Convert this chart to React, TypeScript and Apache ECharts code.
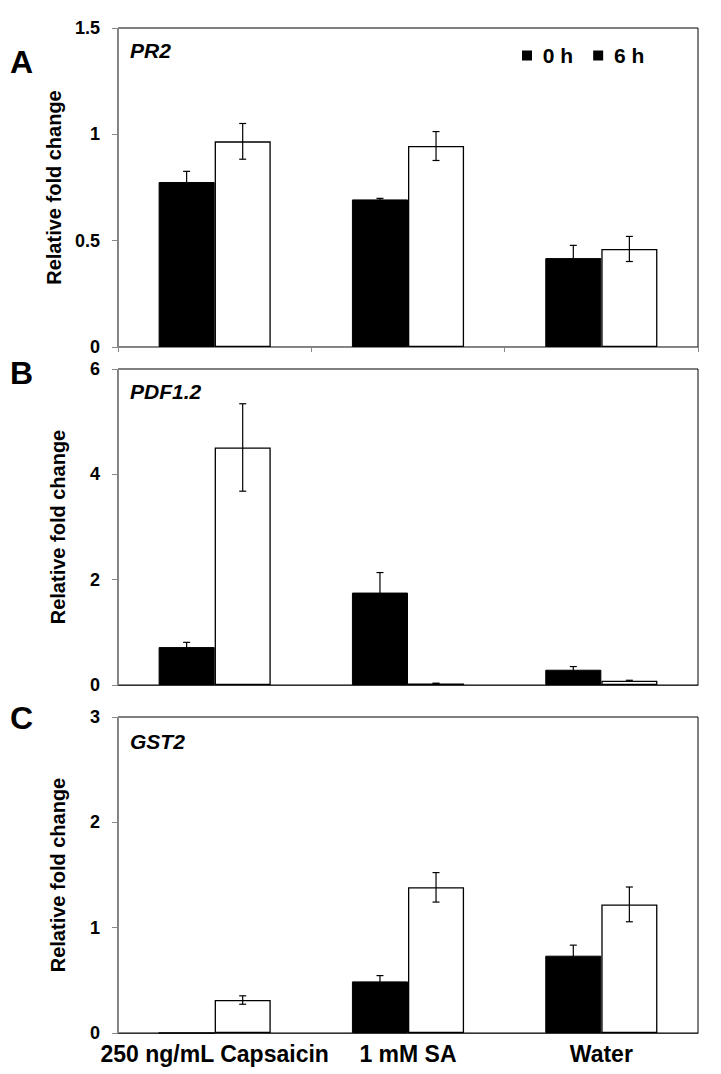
import React, { useEffect, useRef } from 'react';
import * as echarts from 'echarts';

const categories = ['250 ng/mL Capsaicin', '1 mM SA', 'Water'];
const seriesNames = ['0 h', '6 h'];
const genes = ['PR2', 'PDF1.2', 'GST2'];
const panelLetters = ['A', 'B', 'C'];
const yMax = [1.5, 6, 3];
const yInterval = [0.5, 2, 1];
const yAxisTitle = 'Relative fold change';

// PR2
const pr2H0 = [0.776, 0.694, 0.418];
const pr2H0Err = [0.05, 0.005, 0.06];
const pr2H6 = [0.967, 0.945, 0.461];
const pr2H6Err = [0.084, 0.068, 0.059];
// PDF1.2
const pdfH0 = [0.72, 1.755, 0.29];
const pdfH0Err = [0.09, 0.38, 0.06];
const pdfH6 = [4.51, 0.03, 0.08];
const pdfH6Err = [0.83, 0.005, 0.01];
// GST2
const gstH0 = [0, 0.49, 0.734];
const gstH0Err = [0, 0.055, 0.1];
const gstH6 = [0.313, 1.383, 1.221];
const gstH6Err = [0.04, 0.14, 0.165];

const panelValues = [
  [pr2H0, pr2H6],
  [pdfH0, pdfH6],
  [gstH0, gstH6],
];
const panelErrors = [
  [pr2H0Err, pr2H6Err],
  [pdfH0Err, pdfH6Err],
  [gstH0Err, gstH6Err],
];

const FONT = '"Liberation Sans", Arial, Helvetica, sans-serif';
const GRID_LEFT = 118;
const GRID_WIDTH = 580;
const gridTops = [28, 369, 717];
const gridHeights = [319, 316, 316];
const letterTops = [46, 357, 702];
const geneTops = [40, 381, 731];
const BAR_FRACTION = 0.29;

export default function App() {
  const ref = useRef<HTMLDivElement>(null);

  useEffect(() => {
    document.body.style.margin = '0';
    const chart = echarts.init(ref.current!, undefined, { renderer: 'svg' });

    const grid: any[] = [];
    const xAxis: any[] = [];
    const yAxis: any[] = [];
    const series: any[] = [];
    const graphic: any[] = [];

    for (let p = 0; p < 3; p++) {
      grid.push({
        left: GRID_LEFT,
        top: gridTops[p],
        width: GRID_WIDTH,
        height: gridHeights[p],
        show: true,
        borderColor: '#000',
        borderWidth: 1,
        backgroundColor: 'transparent',
      });
      xAxis.push({
        type: 'category',
        gridIndex: p,
        data: categories,
        axisLine: { show: true, lineStyle: { color: p === 0 ? '#888' : '#333', width: 1 } },
        axisTick: { show: p === 0, length: 5, lineStyle: { color: '#888' } },
        axisLabel: {
          show: p === 2,
          interval: 0,
          hideOverlap: false,
          color: '#000',
          fontFamily: FONT,
          fontWeight: 'bold',
          fontSize: 23,
          margin: 9,
        },
        splitLine: { show: false },
      });
      yAxis.push({
        type: 'value',
        gridIndex: p,
        min: 0,
        max: yMax[p],
        interval: yInterval[p],
        name: yAxisTitle,
        nameLocation: 'middle',
        nameGap: 50,
        nameTextStyle: { color: '#000', fontFamily: FONT, fontWeight: 'bold', fontSize: 20 },
        axisLine: { show: true, lineStyle: { color: '#888', width: 1 } },
        axisTick: { show: true, length: 6, lineStyle: { color: '#888' } },
        axisLabel: {
          color: '#000',
          fontFamily: FONT,
          fontWeight: 'bold',
          fontSize: 18,
          margin: 18,
        },
        splitLine: { show: false },
      });

      for (let s = 0; s < 2; s++) {
        series.push({
          type: 'bar',
          name: seriesNames[s],
          xAxisIndex: p,
          yAxisIndex: p,
          data: panelValues[p][s],
          barGap: '0%',
          barCategoryGap: '42%',
          itemStyle: {
            color: s === 0 ? '#000' : '#fff',
            borderColor: '#000',
            borderWidth: s === 0 ? 1 : 1.3,
          },
          emphasis: { disabled: true },
          z: 2,
        });
      }

      const errData: number[][] = [];
      for (let s = 0; s < 2; s++) {
        for (let c = 0; c < categories.length; c++) {
          const v = panelValues[p][s][c];
          const e = panelErrors[p][s][c];
          if (e > 0) errData.push([c, v - e, v + e, s === 0 ? -1 : 1]);
        }
      }
      series.push({
        type: 'custom',
        name: 'err' + p,
        xAxisIndex: p,
        yAxisIndex: p,
        data: errData,
        encode: { x: 0, y: [1, 2] },
        z: 5,
        silent: true,
        renderItem: (params: any, api: any) => {
          const x = api.value(0);
          const lo = api.value(1);
          const hi = api.value(2);
          const side = api.value(3);
          const catW = api.size([1, 0])[0];
          const bw = catW * BAR_FRACTION;
          const pHi = api.coord([x, hi]);
          const pLo = api.coord([x, lo]);
          const cx = pHi[0] + (side * bw) / 2;
          const cap = 3.5;
          const st = { stroke: '#000', lineWidth: 1.2 };
          return {
            type: 'group',
            children: [
              { type: 'line', shape: { x1: cx, y1: pHi[1], x2: cx, y2: pLo[1] }, style: st },
              { type: 'line', shape: { x1: cx - cap, y1: pHi[1], x2: cx + cap, y2: pHi[1] }, style: st },
              { type: 'line', shape: { x1: cx - cap, y1: pLo[1], x2: cx + cap, y2: pLo[1] }, style: st },
            ],
          };
        },
      });

      graphic.push({
        type: 'text',
        left: 10,
        top: letterTops[p],
        style: { text: panelLetters[p], fill: '#000', font: `bold 32px ${FONT}` },
      });
      graphic.push({
        type: 'text',
        left: 130,
        top: geneTops[p],
        style: { text: genes[p], fill: '#000', font: `italic bold 21px ${FONT}` },
      });
    }

    chart.setOption({
      animation: false,
      backgroundColor: '#fff',
      grid,
      xAxis,
      yAxis,
      series,
      graphic,
      legend: {
        show: true,
        left: 517,
        top: 40,
        icon: 'rect',
        itemWidth: 10,
        itemHeight: 10,
        itemGap: 20,
        selectedMode: false,
        formatter: (name: string) => ' ' + name,
        textStyle: { color: '#000', fontFamily: FONT, fontWeight: 'bold', fontSize: 21 },
        data: seriesNames.map((n) => ({ name: n, itemStyle: { color: '#000', borderWidth: 0 } })),
      },
    });

    return () => chart.dispose();
  }, []);

  return <div ref={ref} style={{ width: 721, height: 1074 }} />;
}
